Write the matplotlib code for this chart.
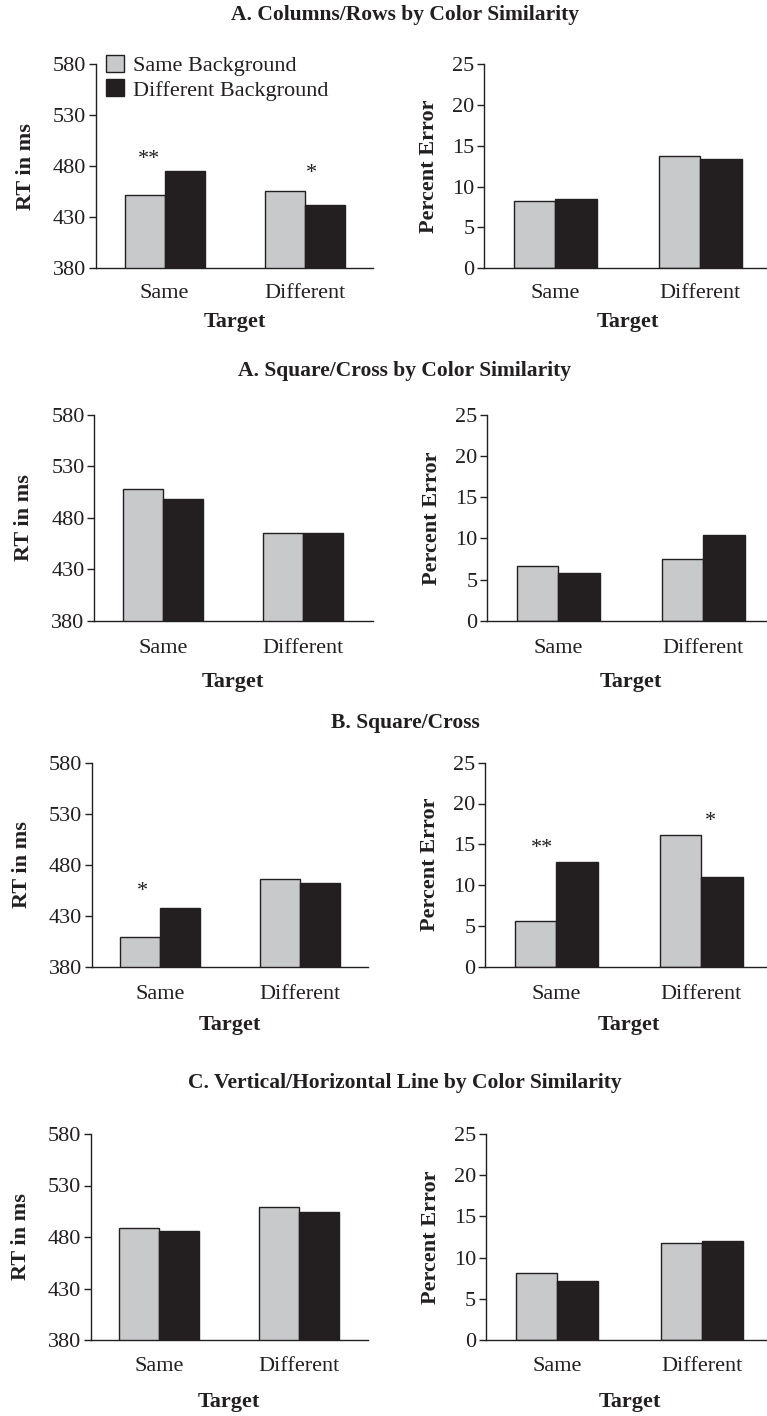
import matplotlib
matplotlib.use("Agg")
import matplotlib.pyplot as plt
from matplotlib.transforms import blended_transform_factory

plt.rcParams['font.family'] = ['Liberation Serif', 'DejaVu Serif']

# data: each inner pair is [Same target, Different target]
targets = ["Same", "Different"]
series = ["Same Background", "Different Background"]
titles = [
    "A. Columns/Rows by Color Similarity",
    "A. Square/Cross by Color Similarity",
    "B. Square/Cross",
    "C. Vertical/Horizontal Line by Color Similarity",
]
rt_same_bg = [[452, 456], [508, 465], [409, 466], [489, 509]]
rt_diff_bg = [[475, 442], [498, 465], [438, 462], [486, 504]]
err_same_bg = [[8.2, 13.8], [6.6, 7.5], [5.6, 16.2], [8.1, 11.8]]
err_diff_bg = [[8.5, 13.4], [5.8, 10.4], [12.8, 11.0], [7.1, 12.0]]
rt_ticks = [380, 430, 480, 530, 580]
err_ticks = [0, 5, 10, 15, 20, 25]

# significance marks: (row, panel, text, x, y)
sig_marks = [
    (0, "rt", "**", -0.11, 482),
    (0, "rt", "*", 1.05, 468),
    (2, "rt", "*", -0.13, 449),
    (2, "err", "**", -0.10, 13.9),
    (2, "err", "*", 1.06, 17.2),
]

GRAY = "#c8c9cb"
DARK = "#231f20"
FS = 16

# layout in pixels (figure 767 x 1416)
W, H = 767, 1416
rows_px = [(64, 268.3), (415, 620.7), (762.7, 966.7), (1134, 1340)]
left_px = [(96, 373), (94.3, 372.7), (91.7, 368), (90.7, 368.3)]
right_px = [(484.3, 767), (487.3, 767), (485.3, 767), (486, 767)]
title_y = [15, 371, 722.7, 1083]
target_y = [321.7, 681.7, 1025, 1401.7]
xtick_pad = [11.5, 13.5, 13.5, 12]


def make_ax(fig, xs, ys):
    x0, x1 = xs
    top, bot = ys
    return fig.add_axes([x0 / W, 1 - bot / H, (x1 - x0) / W, (bot - top) / H])


def draw(ax, same, diff, ticks, ylabel, xspan, ys, ty, ylab_off, pad):
    width = 0.285
    xs = range(len(targets))
    ax.bar([x - width / 2 for x in xs], same, width, color=GRAY,
           edgecolor=DARK, linewidth=1.0, label=series[0], zorder=2)
    ax.bar([x + width / 2 for x in xs], diff, width, color=DARK,
           edgecolor=DARK, linewidth=1.0, label=series[1], zorder=2)
    ax.set_ylim(ticks[0], ticks[-1])
    ax.set_yticks(ticks)
    sep = 140.0 if xspan[1] < 400 else 145.0
    ax.set_xlim(-0.49, -0.49 + (xspan[1] - xspan[0]) / sep)
    ax.set_xticks(list(xs))
    ax.set_xticklabels(targets)
    for s in ("top", "right"):
        ax.spines[s].set_visible(False)
    for s in ("left", "bottom"):
        ax.spines[s].set_color(DARK)
        ax.spines[s].set_linewidth(1.0)
    ax.tick_params(axis="y", direction="out", length=5, width=1.0,
                   color=DARK, labelsize=FS, labelcolor=DARK, pad=2)
    ax.tick_params(axis="x", length=0, labelsize=FS, labelcolor=DARK, pad=pad)
    ax.set_ylabel(ylabel, fontsize=FS, fontweight="bold", color=DARK, va="center")
    ax.yaxis.set_label_coords(-ylab_off / (xspan[1] - xspan[0]), 0.5)
    ax.set_xlabel("Target", fontsize=FS, fontweight="bold", color=DARK, va="center")
    tr = blended_transform_factory(ax.transData, ax.transAxes)
    ax.xaxis.set_label_coords(0.5, -(ty - ys[1]) / (ys[1] - ys[0]), transform=tr)


fig = plt.figure(figsize=(W / 100, H / 100), dpi=100)
axes = []
for r in range(4):
    ax_rt = make_ax(fig, left_px[r], rows_px[r])
    draw(ax_rt, rt_same_bg[r], rt_diff_bg[r], rt_ticks, "RT in ms",
         left_px[r], rows_px[r], target_y[r], 70, xtick_pad[r])
    ax_err = make_ax(fig, right_px[r], rows_px[r])
    draw(ax_err, err_same_bg[r], err_diff_bg[r], err_ticks, "Percent Error",
         right_px[r], rows_px[r], target_y[r], 55, xtick_pad[r])
    axes.append({"rt": ax_rt, "err": ax_err})
    fig.text(405 / W, 1 - title_y[r] / H, titles[r], ha="center", va="center",
             fontsize=15.5, fontweight="bold", color=DARK)

for row, panel, txt, x, y in sig_marks:
    axes[row][panel].text(x, y, txt, ha="center", va="baseline",
                          fontsize=FS, color=DARK)

leg = axes[0]["rt"].legend(loc="upper left", bbox_to_anchor=(0.036, 1.045),
                           frameon=False, fontsize=FS, handlelength=0.8,
                           handleheight=0.8, handletextpad=0.4,
                           labelspacing=0.15, borderpad=0, borderaxespad=0)
for t in leg.get_texts():
    t.set_color(DARK)

fig.savefig("out.png", dpi=100, facecolor="white")
